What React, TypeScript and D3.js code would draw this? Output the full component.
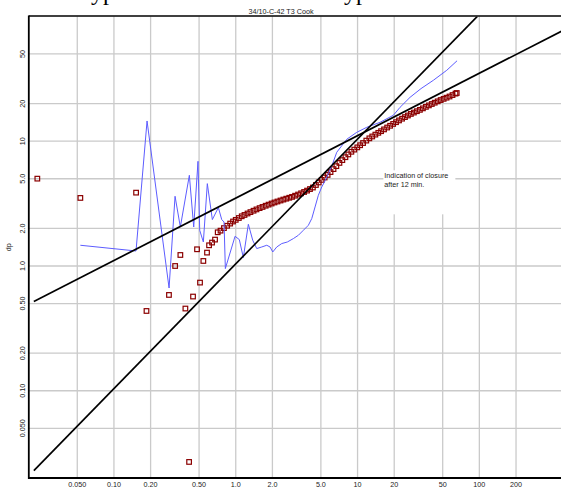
import React from "react";
import * as d3 from "d3";

const W = 561;
const H = 488;

const title = "34/10-C-42 T3 Cook";
const yLabel = "dp";
const noteLines = ["Indication of closure", "after 12 min."];
const noteTime = 16.6;
const noteDp = 5.04;

const xDomain = [0.02, 500];
const yDomain = [0.02, 100];
const xTicks = [0.05, 0.1, 0.2, 0.5, 1, 2, 5, 10, 20, 50, 100, 200];
const xTickLabels = ["0.050", "0.10", "0.20", "0.50", "1.0", "2.0", "5.0", "10", "20", "50", "100", "200"];
const yTicks = [0.05, 0.1, 0.2, 0.5, 1, 2, 5, 10, 20, 50];
const yTickLabels = ["0.050", "0.10", "0.20", "0.50", "1.0", "2.0", "5.0", "10", "20", "50"];

// pressure change (squares)
const dpTime = [
  0.0235, 0.053, 0.152, 0.185, 0.283, 0.318, 0.351, 0.386, 0.414, 0.446, 0.481, 0.509, 0.542, 0.581, 0.604, 0.639, 0.676, 0.711,
  0.75, 0.8, 0.85, 0.9, 0.95, 1.0, 1.06, 1.12, 1.18, 1.25, 1.32, 1.4, 1.48, 1.57, 1.66, 1.76, 1.86, 1.97, 2.08, 2.2,
  2.33, 2.46, 2.6, 2.75, 2.9, 3.07, 3.25, 3.44, 3.64, 3.85, 4.07, 4.3, 4.55, 4.8, 5.08, 5.37, 5.68, 6.0, 6.35, 6.7,
  7.1, 7.5, 7.95, 8.4, 8.9, 9.4, 9.95, 10.5, 11.1, 11.8, 12.5, 13.2, 14.0, 14.8, 15.6, 16.5, 17.5, 18.5, 19.6, 20.7,
  21.9, 23.2, 24.5, 25.9, 27.4, 29.0, 30.7, 32.5, 34.4, 36.4, 38.5, 40.7, 43.0, 45.5, 48.1, 50.9, 53.8, 56.9, 60.2,
  63.7, 65.2,
];
const dpValue = [
  5.01, 3.51, 3.87, 0.436, 0.586, 1.0, 1.225, 0.456, 0.0269, 0.569, 1.361, 0.736, 1.097, 1.28, 1.465, 1.54, 1.627, 1.862,
  1.919, 2.012, 2.1, 2.187, 2.272, 2.342, 2.423, 2.502, 2.564, 2.634, 2.702, 2.772, 2.84, 2.909, 2.972, 3.04, 3.102, 3.166, 3.228, 3.286,
  3.347, 3.406, 3.463, 3.522, 3.579, 3.657, 3.737, 3.822, 3.918, 4.018, 4.135, 4.254, 4.456, 4.67, 4.896, 5.118, 5.366, 5.656, 5.974, 6.311,
  6.696, 7.053, 7.443, 7.834, 8.225, 8.561, 8.923, 9.281, 9.667, 10.11, 10.54, 10.91, 11.29, 11.67, 12.03, 12.43, 12.87, 13.29, 13.75, 14.2,
  14.67, 15.15, 15.6, 16.07, 16.54, 16.96, 17.39, 17.83, 18.33, 18.84, 19.36, 19.86, 20.35, 20.86, 21.36, 21.84, 22.32, 22.81, 23.42,
  24.06, 24.33,
];

// derivative (blue line)
const derivTime = [
  0.053, 0.1518, 0.187, 0.2835, 0.3175, 0.3508, 0.416, 0.4518, 0.49, 0.506, 0.542, 0.5843, 0.6425, 0.7197, 0.7673, 0.8015,
  0.8215, 0.987, 1.07, 1.154, 1.269, 1.379, 1.487, 1.635, 1.797, 1.912, 2.013, 2.171, 2.386, 2.652, 2.972, 3.266, 3.589,
  3.945, 4.207, 4.478, 4.766, 5.082, 5.41, 5.757, 6.175, 6.75, 8.15, 9.85, 11.9, 15.3, 19.68, 22.33, 26.98, 33.2, 41.9,
  54.0, 65.6,
];
const derivValue = [
  1.466, 1.319, 14.52, 0.666, 3.619, 2.053, 5.33, 2.053, 6.9, 1.932, 1.557, 4.57, 2.354, 2.938, 2.354, 2.252,
  0.953, 1.73, 1.627, 1.168, 2.159, 1.607, 1.379, 1.42, 1.466, 1.42, 1.295, 1.42, 1.512, 1.557, 1.658, 1.762, 1.932,
  2.119, 2.398, 2.971, 3.686, 4.296, 4.815, 5.5, 6.41, 8.15, 10.36, 11.78, 12.92, 14.17, 16.13, 18.69, 22.47, 26.4, 30.76,
  37.0, 44.1,
];

// straight-line fits (endpoints)
const halfSlopeTime = [0.022, 500];
const halfSlopeValue = [0.519, 78.3];
const unitSlopeTime = [0.022, 96.2];
const unitSlopeValue = [0.0229, 100];

const FONT = "'Liberation Sans', Arial, sans-serif";

export default function App() {
  const left = 28.8;
  const right = 564.5;
  const top = 16.4;
  const bottom = 478;

  const x = d3.scaleLog().domain(xDomain).range([left, right]);
  const y = d3.scaleLog().domain(yDomain).range([bottom, top]);

  const line = d3
    .line<[number, number]>()
    .x((d) => x(d[0]))
    .y((d) => y(d[1]));

  const deriv: [number, number][] = derivTime.map((t, i) => [t, derivValue[i]]);
  const half: [number, number][] = halfSlopeTime.map((t, i) => [t, halfSlopeValue[i]]);
  const unit: [number, number][] = unitSlopeTime.map((t, i) => [t, unitSlopeValue[i]]);

  const sq = 4.6;
  const nx = x(noteTime);
  const ny = y(noteDp);

  return (
    <svg
      width={W}
      height={H}
      style={{ position: "absolute", left: 0, top: 0, background: "#fff", overflow: "hidden" }}
    >
      <defs>
        <clipPath id="plot">
          <rect x={left} y={top} width={right - left} height={bottom - top} />
        </clipPath>
      </defs>
      <rect x={0} y={0} width={W} height={H} fill="#fff" />

      {/* heading above the chart, cut off by the page edge as in the original */}
      <text x={91} y={0} fontFamily="'Liberation Serif', serif" fontSize={24} fill="#000">yp</text>
      <text x={344} y={0} fontFamily="'Liberation Serif', serif" fontSize={24} fill="#000">yp</text>

      {/* grid */}
      {xTicks.map((t) => (
        <line key={"gx" + t} x1={x(t)} x2={x(t)} y1={top} y2={bottom} stroke="#cacaca" strokeWidth={1.3} />
      ))}
      {yTicks.map((t) => (
        <line key={"gy" + t} x1={left} x2={right} y1={y(t)} y2={y(t)} stroke="#cacaca" strokeWidth={1.3} />
      ))}

      {/* annotation box */}
      <rect x={nx - 1} y={ny - 8} width={72} height={44} fill="#fff" />
      {noteLines.map((s, i) => (
        <text key={s} x={nx} y={ny + i * 9} fontFamily={FONT} fontSize={7.2} fill="#222">
          {s}
        </text>
      ))}

      <g clipPath="url(#plot)">
        {dpTime.map((t, i) => (
          <rect
            key={"dp" + i}
            x={x(t) - sq / 2}
            y={y(dpValue[i]) - sq / 2}
            width={sq}
            height={sq}
            fill="none"
            stroke="#8b0000"
            strokeWidth={1.2}
          />
        ))}
        <path d={line(deriv) || ""} fill="none" stroke="#5c5cff" strokeWidth={1} />
        <path d={line(half) || ""} fill="none" stroke="#000" strokeWidth={1.7} />
        <path d={line(unit) || ""} fill="none" stroke="#000" strokeWidth={1.7} />
      </g>

      {/* frame */}
      <line x1={left} x2={right} y1={top - 0.5} y2={top - 0.5} stroke="#000" strokeWidth={1.5} />
      <line x1={left} x2={left} y1={top - 1} y2={bottom + 1} stroke="#000" strokeWidth={1.8} />
      <line x1={left} x2={right} y1={bottom} y2={bottom} stroke="#000" strokeWidth={1.8} />

      {/* title */}
      <text x={281} y={14.3} textAnchor="middle" fontFamily={FONT} fontSize={7.2} fill="#222">
        {title}
      </text>

      {/* x tick labels */}
      {xTicks.map((t, i) => (
        <text key={"xl" + t} x={x(t)} y={486.5} textAnchor="middle" fontFamily={FONT} fontSize={7.2} fill="#222">
          {xTickLabels[i]}
        </text>
      ))}

      {/* y tick labels */}
      {yTicks.map((t, i) => (
        <text
          key={"yl" + t}
          transform={`translate(25,${y(t)}) rotate(-90)`}
          textAnchor="middle"
          fontFamily={FONT}
          fontSize={7.2}
          fill="#222"
        >
          {yTickLabels[i]}
        </text>
      ))}

      <text
        transform={`translate(10.8,${(top + bottom) / 2}) rotate(-90)`}
        textAnchor="middle"
        fontFamily={FONT}
        fontSize={7.2}
        fill="#222"
      >
        {yLabel}
      </text>
    </svg>
  );
}
